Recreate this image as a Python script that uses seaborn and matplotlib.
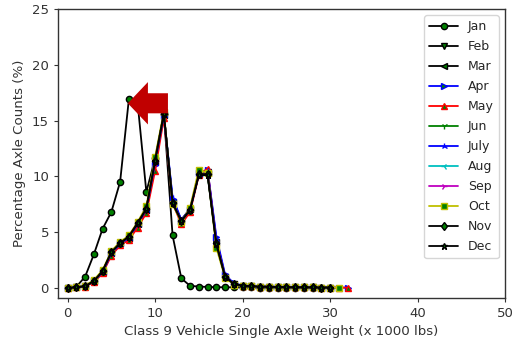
import numpy as np
import pandas as pd
import matplotlib
matplotlib.use("Agg")
import matplotlib.pyplot as plt
from matplotlib.patches import FancyArrow
import seaborn as sns

# Axle weight bins (x 1000 lbs)
weights_30 = list(range(0, 31))
weights_31 = list(range(0, 32))
weights_32 = list(range(0, 33))

# Percentage of single-axle counts per weight bin, by month
jan = [0.0, 0.1, 1.0, 3.0, 5.3, 6.8, 9.5, 16.9, 16.6, 8.6, 11.6, 15.6, 4.7, 0.85, 0.18,
       0.12, 0.08, 0.06, 0.05, 0.05, 0.04, 0.04, 0.03, 0.03, 0.03, 0.02, 0.02, 0.02, 0.02, 0.02, 0.02]
feb = [0.0, 0.05, 0.15, 0.6, 1.5, 3.2, 4.0, 4.6, 5.8, 7.1, 11.4, 15.6, 7.6, 6.0, 7.0,
       10.3, 10.4, 4.0, 1.0, 0.35, 0.2, 0.15, 0.1, 0.1, 0.08, 0.06, 0.05, 0.05, 0.04, 0.03, 0.03]
mar = [0.0, 0.05, 0.15, 0.6, 1.4, 3.1, 4.0, 4.5, 5.7, 7.0, 11.3, 15.5, 7.7, 6.1, 7.1,
       10.2, 10.3, 4.1, 1.0, 0.35, 0.2, 0.15, 0.1, 0.1, 0.08, 0.06, 0.05, 0.05, 0.04, 0.03, 0.03]
apr = [0.0, 0.05, 0.15, 0.6, 1.4, 3.0, 3.9, 4.5, 5.6, 6.9, 11.0, 15.4, 8.0, 6.0, 7.0,
       10.3, 10.6, 4.6, 1.2, 0.4, 0.2, 0.15, 0.1, 0.1, 0.08, 0.06, 0.05, 0.05, 0.04, 0.03, 0.03, 0.02, 0.02]
may = [0.0, 0.05, 0.12, 0.5, 1.3, 2.9, 3.8, 4.3, 5.4, 6.7, 10.5, 15.2, 7.6, 5.7, 6.8,
       10.1, 10.7, 4.0, 1.1, 0.35, 0.2, 0.15, 0.1, 0.1, 0.08, 0.06, 0.05, 0.05, 0.04, 0.03, 0.03, 0.02, 0.02]
jun = [0.0, 0.05, 0.15, 0.6, 1.5, 3.2, 4.1, 4.6, 5.8, 7.1, 11.4, 15.6, 7.7, 6.0, 7.0,
       10.3, 10.2, 4.1, 1.0, 0.35, 0.2, 0.15, 0.1, 0.1, 0.08, 0.06, 0.05, 0.05, 0.04, 0.03, 0.03]
jul = [0.0, 0.05, 0.15, 0.6, 1.4, 3.1, 3.9, 4.5, 5.7, 7.0, 11.2, 15.5, 8.1, 6.1, 7.1,
       10.2, 10.5, 4.4, 1.1, 0.4, 0.2, 0.15, 0.1, 0.1, 0.08, 0.06, 0.05, 0.05, 0.04, 0.03, 0.03]
aug = [0.0, 0.05, 0.15, 0.6, 1.5, 3.2, 4.0, 4.6, 5.8, 7.1, 11.4, 15.6, 7.6, 6.0, 7.0,
       10.2, 10.2, 4.0, 1.0, 0.35, 0.2, 0.15, 0.1, 0.1, 0.08, 0.06, 0.05, 0.05, 0.04, 0.03, 0.03]
sep = [0.0, 0.05, 0.15, 0.6, 1.5, 3.2, 4.0, 4.6, 5.8, 7.1, 11.3, 15.6, 7.6, 6.0, 7.0,
       10.2, 10.3, 4.1, 1.0, 0.35, 0.2, 0.15, 0.1, 0.1, 0.08, 0.06, 0.05, 0.05, 0.04, 0.03, 0.03]
oct_ = [0.0, 0.05, 0.2, 0.7, 1.6, 3.3, 4.1, 4.7, 5.9, 7.3, 11.7, 15.8, 7.5, 5.9, 7.2,
        10.6, 10.3, 3.6, 0.9, 0.3, 0.2, 0.15, 0.1, 0.1, 0.08, 0.06, 0.05, 0.05, 0.04, 0.03, 0.03, 0.02]
nov = [0.0, 0.05, 0.15, 0.6, 1.5, 3.2, 4.0, 4.6, 5.8, 7.1, 11.4, 15.6, 7.6, 6.0, 7.0,
       10.2, 10.2, 4.0, 1.0, 0.35, 0.2, 0.15, 0.1, 0.1, 0.08, 0.06, 0.05, 0.05, 0.04, 0.03, 0.03]
dec = [0.0, 0.05, 0.15, 0.6, 1.5, 3.2, 4.0, 4.6, 5.8, 7.1, 11.4, 15.6, 7.6, 6.0, 7.0,
       10.1, 10.1, 3.9, 1.0, 0.35, 0.2, 0.15, 0.1, 0.1, 0.08, 0.06, 0.05, 0.05, 0.04, 0.03, 0.03]

months = ["Jan", "Feb", "Mar", "Apr", "May", "Jun", "July", "Aug", "Sep", "Oct", "Nov", "Dec"]
values = [jan, feb, mar, apr, may, jun, jul, aug, sep, oct_, nov, dec]
weights = [weights_30, weights_30, weights_30, weights_32, weights_32, weights_30,
           weights_30, weights_30, weights_30, weights_31, weights_30, weights_30]
line_colors = ["k", "k", "k", "b", "r", "g", "b", "c", "m", "y", "k", "k"]
marker_styles = ["o", "v", "<", ">", "^", "1", "2", "3", "4", "s", "d", "*"]

x_ticks = [0, 10, 20, 30, 40, 50]
y_ticks = [0, 5, 10, 15, 20, 25]

sns.set_style("ticks")
plt.rcParams["font.family"] = ["DejaVu Sans"]

fig = plt.figure(figsize=(5.15, 3.48), dpi=100)
ax = fig.add_axes([0.1126, 0.144, 0.868, 0.830])

for name, ys, xs, col, mk in zip(months, values, weights, line_colors, marker_styles):
    df = pd.DataFrame({"weight": xs, "pct": ys})
    sns.lineplot(data=df, x="weight", y="pct", ax=ax, color=col, marker=mk,
                 markersize=4.5, markerfacecolor="g", markeredgecolor=col,
                 markeredgewidth=1.0, linewidth=1.3, label=name, errorbar=None)

# Callout arrow pointing at the January peak
ax.add_patch(FancyArrow(11.47, 16.55, -4.59, 0.0, width=1.8, head_width=3.8,
                        head_length=2.3, length_includes_head=True,
                        color="#C00000", zorder=10, lw=0))

ax.set_xlim(-1.1, 50)
ax.set_ylim(-0.9, 25)
ax.set_xticks(x_ticks)
ax.set_yticks(y_ticks)
ax.tick_params(labelsize=9.5, colors="#333333", length=3)
for s in ax.spines.values():
    s.set_color("#333333")
    s.set_linewidth(1.0)
ax.set_xlabel("Class 9 Vehicle Single Axle Weight (x 1000 lbs)", fontsize=9.6, color="#333333")
ax.set_ylabel("Percentage Axle Counts (%)", fontsize=9.6, color="#333333")
ax.legend(loc="upper right", fontsize=9, frameon=True, handlelength=2.3,
          borderaxespad=0.5, labelspacing=0.56)

fig.savefig("out.png", dpi=100)
